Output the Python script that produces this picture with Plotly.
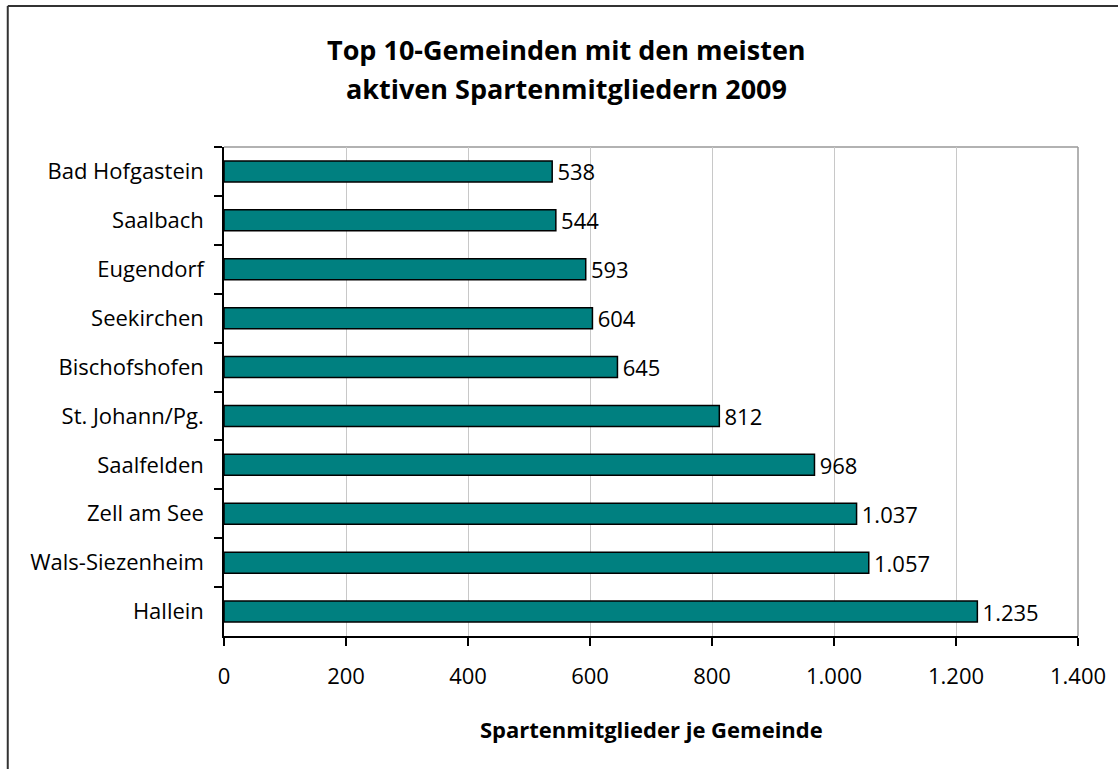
import plotly.graph_objects as go

# Gemeinden, von oben nach unten
GEMEINDEN = [
    "Bad Hofgastein", "Saalbach", "Eugendorf", "Seekirchen", "Bischofshofen",
    "St. Johann/Pg.", "Saalfelden", "Zell am See", "Wals-Siezenheim", "Hallein",
]
MITGLIEDER = [538, 544, 593, 604, 645, 812, 968, 1037, 1057, 1235]
X_TICKS = [0, 200, 400, 600, 800, 1000, 1200, 1400]

BAR_COLOR = "#008080"
GRID_COLOR = "#c8c8c8"
BORDER_COLOR = "#999999"
FONT = "Open Sans, sans-serif"

W, H = 1118, 769
L, R, T, B = 224, 37, 147, 133

fig = go.Figure(go.Bar(
    x=MITGLIEDER, y=GEMEINDEN,
    orientation="h",
    marker=dict(color=BAR_COLOR, line=dict(color="#000000", width=1.5)),
    width=0.43,
    texttemplate="\u200a%{x:,}",
    textposition="outside",
    constraintext="none",
    textfont=dict(size=22, color="#000000", family=FONT),
    cliponaxis=False,
    hoverinfo="skip",
))

# paper-px helpers for the frame and plot border
pw, ph = W - L - R, H - T - B
def px_x(x): return (x - L) / pw
def px_y(y): return 1 - (y - T) / ph

# plot border (top + right), outer frame (left + top)
fig.add_shape(type="line", xref="paper", yref="paper",
              x0=0, x1=1, y0=1, y1=1, line=dict(color=BORDER_COLOR, width=1.5), layer="below")
fig.add_shape(type="line", xref="paper", yref="paper",
              x0=1, x1=1, y0=0, y1=1, line=dict(color=BORDER_COLOR, width=1.5), layer="below")
fig.add_shape(type="line", xref="paper", yref="paper",
              x0=px_x(7), x1=px_x(7), y0=px_y(6), y1=px_y(H + 10), line=dict(color="#333333", width=2))
fig.add_shape(type="line", xref="paper", yref="paper",
              x0=px_x(7), x1=px_x(W + 10), y0=px_y(6), y1=px_y(6), line=dict(color="#333333", width=2))

for txt, yc in [("Top 10-Gemeinden mit den meisten", 50), ("aktiven Spartenmitgliedern 2009", 89)]:
    fig.add_annotation(
        text=f"<b>{txt}</b>",
        xref="paper", yref="paper", x=px_x(568), y=px_y(yc),
        xanchor="center", yanchor="middle",
        showarrow=False, font=dict(size=27, color="#000000", family=FONT),
    )
fig.add_annotation(
    text="<b>Spartenmitglieder je Gemeinde</b>",
    xref="paper", yref="paper", x=0.5, y=px_y(729),
    xanchor="center", yanchor="middle",
    showarrow=False, font=dict(size=22, color="#000000", family=FONT),
)

fig.update_layout(
    width=W, height=H,
    margin=dict(l=L, r=R, t=T, b=B),
    paper_bgcolor="white", plot_bgcolor="white",
    separators=",.",
    showlegend=False,
    font=dict(family=FONT, color="#000000"),
    xaxis=dict(
        range=[0, 1400], tickvals=X_TICKS, tickformat=",",
        showgrid=True, gridcolor=GRID_COLOR, gridwidth=1,
        showline=True, linecolor="#000000", linewidth=1.5,
        ticks="outside", ticklen=8, tickcolor="#000000", tickwidth=1.5,
        tickfont=dict(size=22), ticklabelstandoff=12,
        zeroline=False, fixedrange=True,
    ),
    yaxis=dict(
        categoryorder="array", categoryarray=GEMEINDEN, autorange="reversed",
        showline=True, linecolor="#000000", linewidth=1.5,
        ticks="outside", ticklen=8, tickcolor="#000000", tickwidth=1.5,
        tickson="boundaries", tickfont=dict(size=22), ticklabelstandoff=14,
        showgrid=False, fixedrange=True,
    ),
)

# the page body has a default 8px margin; drop it so the figure sits at 0,0
fig.write_html("out.html", config={"displayModeBar": False},
               post_script="document.body.style.margin='0';")
